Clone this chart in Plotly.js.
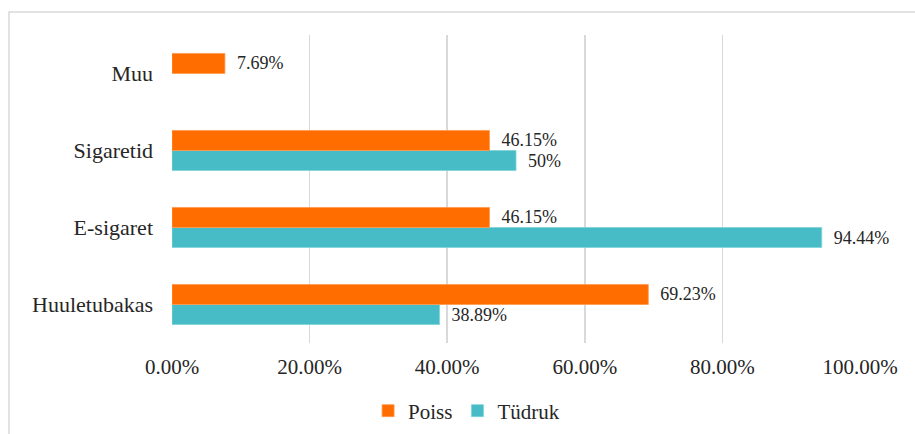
<!DOCTYPE html>
<html>
<head>
<meta charset="utf-8">
<script src="https://cdn.plot.ly/plotly-3.0.1.min.js"></script>
<style>
  html, body { margin: 0; padding: 0; background: #fff; }
  #chart { width: 915px; height: 434px; }
</style>
</head>
<body>
<div id="chart"></div>
<script>
// Data (bottom to top on the chart)
const categories = ["Huuletubakas", "E-sigaret", "Sigaretid", "Muu"];
const poissValues = [69.23, 46.15, 46.15, 7.69];
const tudrukValues = [38.89, 94.44, 50, null];
const seriesNames = ["Poiss", "Tüdruk"];
const xTickVals = [0, 20, 40, 60, 80, 100];
const xTickText = ["0.00%", "20.00%", "40.00%", "60.00%", "80.00%", "100.00%"];

const colors = { poiss: "#FF6D00", tudruk: "#47BCC6" };
const labelOf = v => (v === null ? "" : "\u00a0\u00a0" + v + "%");

const serif = "Liberation Serif";

const traceTudruk = {
  type: "bar",
  orientation: "h",
  name: seriesNames[1],
  y: categories,
  x: tudrukValues,
  text: tudrukValues.map(labelOf),
  textposition: "outside",
  outsidetextfont: { family: serif, size: 18, color: "#262626" },
  textfont: { family: serif, size: 18, color: "#262626" },
  cliponaxis: false,
  constraintext: "none",
  marker: { color: colors.tudruk, line: { color: "#7fd3da", width: 0.8 } },
  hoverinfo: "skip"
};
const tracePoiss = {
  type: "bar",
  orientation: "h",
  name: seriesNames[0],
  y: categories,
  x: poissValues,
  text: poissValues.map(labelOf),
  textposition: "outside",
  outsidetextfont: { family: serif, size: 18, color: "#262626" },
  textfont: { family: serif, size: 18, color: "#262626" },
  cliponaxis: false,
  constraintext: "none",
  marker: { color: colors.poiss, line: { color: "#ff9a4d", width: 0.8 } },
  hoverinfo: "skip"
};

const layout = {
  width: 915,
  height: 434,
  margin: { l: 172, r: 55, t: 35, b: 91, pad: 0 },
  font: { family: serif, color: "#262626" },
  paper_bgcolor: "#ffffff",
  plot_bgcolor: "#ffffff",
  barmode: "group",
  bargap: 0.48,
  bargroupgap: 0,
  showlegend: true,
  legend: {
    orientation: "h",
    traceorder: "reversed",
    x: 0.285,
    xanchor: "left",
    yref: "container",
    y: 0.053,
    yanchor: "middle",
    font: { family: serif, size: 21, color: "#262626" },
    itemwidth: 30
  },
  xaxis: {
    range: [0, 100],
    tickmode: "array",
    tickvals: xTickVals,
    ticktext: xTickText,
    tickfont: { family: serif, size: 21, color: "#262626" },
    showgrid: true,
    gridcolor: "#d9d9d9",
    gridwidth: 1.5,
    zeroline: false,
    showline: false,
    ticks: "",
    ticklabelstandoff: 9,
    automargin: false,
    fixedrange: true
  },
  yaxis: {
    type: "category",
    tickfont: { family: serif, size: 22, color: "#262626" },
    showgrid: false,
    zeroline: false,
    showline: false,
    ticks: "",
    ticklabelstandoff: 18,
    automargin: false,
    fixedrange: true
  },
  shapes: [
    {
      type: "rect",
      xref: "paper", yref: "paper",
      x0: (9 - 172) / 688, x1: (930 - 172) / 688,
      y0: (343 - 450) / 308, y1: (343 - 12) / 308,
      line: { color: "#d9d9d9", width: 1.5 },
      fillcolor: "rgba(0,0,0,0)",
      layer: "below"
    }
  ]
};

Plotly.newPlot("chart", [traceTudruk, tracePoiss], layout, { displayModeBar: false, staticPlot: true });
</script>
</body>
</html>
